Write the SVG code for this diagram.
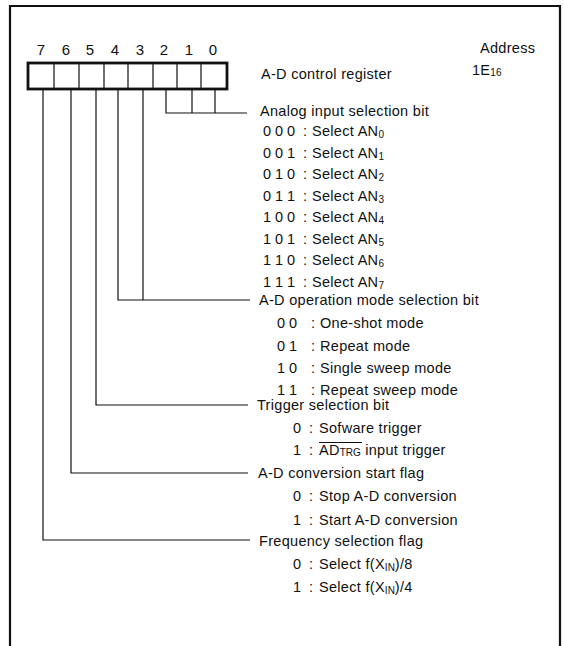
<svg xmlns="http://www.w3.org/2000/svg" width="564" height="646" viewBox="0 0 564 646">
<style>
text{font-family:"Liberation Sans",Arial,sans-serif;font-size:14.5px;fill:#111;letter-spacing:0.3px}
.sub{font-size:10px;letter-spacing:0}
.num{text-anchor:middle;font-size:15px}
.thin{stroke:#111;stroke-width:1.2;fill:none}
</style>
<rect width="564" height="646" fill="#fff"/>
<g id="frame"><path d="M10,650 V6 H560 V650" fill="none" stroke="#111" stroke-width="2.2"/></g>
<g id="register">
<g class="num-labels">
<text class="num" x="41" y="55">7</text><text class="num" x="66" y="55">6</text><text class="num" x="90" y="55">5</text><text class="num" x="115" y="55">4</text><text class="num" x="140" y="55">3</text><text class="num" x="164" y="55">2</text><text class="num" x="189" y="55">1</text><text class="num" x="213" y="55">0</text>
</g>
<path class="thin" d="M54,63V89M79,63V89M104,63V89M128,63V89M153,63V89M177,63V89M201,63V89"/>
<rect x="28" y="63" width="199" height="26" fill="none" stroke="#111" stroke-width="2.8"/>
</g>
<g id="title">
<text x="480" y="53">Address</text>
<text x="261" y="79">A-D control register</text>
<text x="472" y="75">1E<tspan class="sub" dy="1">16</tspan></text>
</g>
<g id="connectors" class="thin">
<path d="M166,89V113H247M192,89V113M215,89V113"/>
<path d="M118,89V300H250M143,89V300"/>
<path d="M96,89V405H248"/>
<path d="M71,89V473H248"/>
<path d="M43,89V540H250"/>
</g>
<g id="analog">
<text x="260" y="116">Analog input selection bit</text>
<text y="136"><tspan x="263">0</tspan><tspan x="275">0</tspan><tspan x="287">0</tspan><tspan x="303">:</tspan><tspan x="312">Select AN</tspan><tspan class="sub" dy="2">0</tspan></text>
<text y="158"><tspan x="263">0</tspan><tspan x="275">0</tspan><tspan x="287">1</tspan><tspan x="303">:</tspan><tspan x="312">Select AN</tspan><tspan class="sub" dy="2">1</tspan></text>
<text y="179"><tspan x="263">0</tspan><tspan x="275">1</tspan><tspan x="287">0</tspan><tspan x="303">:</tspan><tspan x="312">Select AN</tspan><tspan class="sub" dy="2">2</tspan></text>
<text y="201"><tspan x="263">0</tspan><tspan x="275">1</tspan><tspan x="287">1</tspan><tspan x="303">:</tspan><tspan x="312">Select AN</tspan><tspan class="sub" dy="2">3</tspan></text>
<text y="222"><tspan x="263">1</tspan><tspan x="275">0</tspan><tspan x="287">0</tspan><tspan x="303">:</tspan><tspan x="312">Select AN</tspan><tspan class="sub" dy="2">4</tspan></text>
<text y="244"><tspan x="263">1</tspan><tspan x="275">0</tspan><tspan x="287">1</tspan><tspan x="303">:</tspan><tspan x="312">Select AN</tspan><tspan class="sub" dy="2">5</tspan></text>
<text y="265"><tspan x="263">1</tspan><tspan x="275">1</tspan><tspan x="287">0</tspan><tspan x="303">:</tspan><tspan x="312">Select AN</tspan><tspan class="sub" dy="2">6</tspan></text>
<text y="287"><tspan x="263">1</tspan><tspan x="275">1</tspan><tspan x="287">1</tspan><tspan x="303">:</tspan><tspan x="312">Select AN</tspan><tspan class="sub" dy="2">7</tspan></text>
</g>
<g id="opmode">
<text x="259" y="305">A-D operation mode selection bit</text>
<text y="328"><tspan x="277">0</tspan><tspan x="289">0</tspan><tspan x="311">:</tspan><tspan x="320">One-shot mode</tspan></text>
<text y="351"><tspan x="277">0</tspan><tspan x="289">1</tspan><tspan x="311">:</tspan><tspan x="320">Repeat mode</tspan></text>
<text y="373"><tspan x="277">1</tspan><tspan x="289">0</tspan><tspan x="311">:</tspan><tspan x="320">Single sweep mode</tspan></text>
<text y="395"><tspan x="277">1</tspan><tspan x="289">1</tspan><tspan x="311">:</tspan><tspan x="320">Repeat sweep mode</tspan></text>
</g>
<g id="trigger">
<text x="257" y="410">Trigger selection bit</text>
<text y="433"><tspan x="293">0</tspan><tspan x="309">:</tspan><tspan x="319">Sofware trigger</tspan></text>
<text y="455"><tspan x="293">1</tspan><tspan x="309">:</tspan><tspan x="319">AD</tspan><tspan class="sub" dy="1">TRG</tspan><tspan dy="-1"> input trigger</tspan></text>
<path class="thin" d="M319,442.5H362"/>
</g>
<g id="startflag">
<text x="258" y="478">A-D conversion start flag</text>
<text y="501"><tspan x="293">0</tspan><tspan x="309">:</tspan><tspan x="319">Stop A-D conversion</tspan></text>
<text y="525"><tspan x="293">1</tspan><tspan x="309">:</tspan><tspan x="319">Start A-D conversion</tspan></text>
</g>
<g id="freq">
<text x="259" y="546">Frequency selection flag</text>
<text y="569"><tspan x="293">0</tspan><tspan x="309">:</tspan><tspan x="319">Select f(X</tspan><tspan class="sub" dy="2">IN</tspan><tspan dy="-2">)/8</tspan></text>
<text y="592"><tspan x="293">1</tspan><tspan x="309">:</tspan><tspan x="319">Select f(X</tspan><tspan class="sub" dy="2">IN</tspan><tspan dy="-2">)/4</tspan></text>
</g>
</svg>
